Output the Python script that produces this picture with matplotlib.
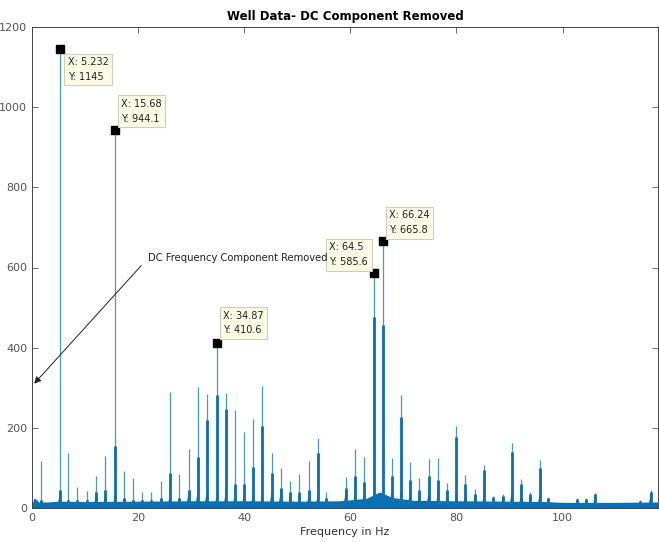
import matplotlib
matplotlib.use("Agg")
import matplotlib.pyplot as plt

# ---- data ----
peak_freq = [1.63, 5.232, 6.84, 8.53, 10.3, 12.04, 13.8, 15.68, 17.3, 19.0, 20.75, 22.5,
             24.3, 26.0, 27.7, 29.5, 31.2, 32.9, 34.87, 36.5, 38.25, 39.95, 41.65, 43.4,
             45.15, 46.85, 48.7, 50.4, 52.2, 53.9, 55.5, 59.1, 60.9, 62.6, 64.5, 66.24,
             67.8, 69.5, 71.2, 73.0, 74.75, 76.5, 78.3, 80.0, 81.7, 83.5, 85.2, 86.9,
             88.7, 90.4, 92.2, 93.9, 95.7, 97.3, 102.8, 104.4, 106.1, 114.7, 116.6]
peak_height = [117, 1145, 138, 53, 42, 80, 130, 944.1, 93, 74, 40, 40,
               67, 289, 86, 147, 303, 284, 410.6, 287, 244, 189, 223, 305,
               138, 100, 67, 86, 118, 174, 40, 78, 146, 128, 585.6, 665.8,
               124, 282, 114, 74, 121, 124, 63, 205, 82, 47, 107, 30,
               35, 161, 72, 40, 120, 28, 25, 25, 38, 20, 45]
peak_core = [20, 45, 20, 20, 20, 40, 45, 155, 25, 20, 20, 20,
             25, 87, 25, 45, 128, 219, 282, 247, 60, 60, 103, 205,
             87, 50, 40, 40, 45, 137, 25, 50, 80, 65, 477, 457,
             80, 228, 70, 45, 80, 70, 45, 178, 60, 35, 95, 28,
             30, 140, 60, 35, 100, 25, 22, 22, 35, 18, 40]
floor_freq = [0, 0.3, 0.8, 1.2, 3, 5, 10, 20, 30, 40, 50, 58, 63, 65.5, 68, 72,
              80, 90, 97, 100, 110, 118]
floor_level = [6, 24, 22, 15, 15, 17, 16, 17, 18, 18, 17, 18, 24, 40, 26, 19,
               18, 17, 16, 14, 14, 15]

tips = [(5.232, 1145, "X: 5.232\nY: 1145", (8, -8), "top"),
        (15.68, 944.1, "X: 15.68\nY: 944.1", (6, 6), "bottom"),
        (34.87, 410.6, "X: 34.87\nY: 410.6", (6, 8), "bottom"),
        (64.5, 585.6, "X: 64.5\nY: 585.6", (-6, 6), "bottom"),
        (66.24, 665.8, "X: 66.24\nY: 665.8", (6, 6), "bottom")]

fig = plt.figure(figsize=(6.59, 5.42), dpi=100)
ax = fig.add_axes([32 / 659, 1 - 508 / 542, 626 / 659, 481 / 542])

dark = "#0b6fb6"
light = "#4b98ba"

ax.fill_between(floor_freq, 0, floor_level, color=dark, lw=0, zorder=2)
for f, h, c in zip(peak_freq, peak_height, peak_core):
    sk = min(c, 45)
    ax.fill([f - 0.5, f - 0.15, f, f + 0.15, f + 0.5], [0, sk * 0.55, sk, sk * 0.55, 0],
            color=dark, lw=0, zorder=2)
    ax.vlines(f, 0, h, color=light, lw=0.9, zorder=3)
    ax.vlines(f, 0, c, color=dark, lw=2.0, zorder=4)

for x, y, txt, off, va in tips:
    ax.plot([x], [y], marker="s", color="black", markersize=5.5, zorder=6)
    ha = "right" if off[0] < 0 else "left"
    ax.annotate(txt, xy=(x, y), xytext=off, textcoords="offset pixels",
                ha=ha, va=va, multialignment="left", fontsize=7.0,
                color="#222222", linespacing=1.6,
                bbox=dict(boxstyle="square,pad=0.35", fc="#fbfbe6", ec="#cfcfc0", lw=0.8),
                zorder=7)

ax.annotate("", xy=(0.06, 305), xytext=(20.95, 610),
            arrowprops=dict(arrowstyle="-|>", color="#222222", lw=0.7,
                            mutation_scale=10), zorder=8)
ax.text(21.8, 624, "DC Frequency Component Removed", fontsize=7.2,
        color="#222222", ha="left", va="center", zorder=8)

ax.set_xlim(0, 118)
ax.set_ylim(0, 1200)
ax.set_xticks([0, 20, 40, 60, 80, 100])
ax.set_yticks([0, 200, 400, 600, 800, 1000, 1200])
ax.tick_params(direction="in", top=True, right=True, labelsize=8,
               colors="#555555", length=4, width=0.6)
for s in ax.spines.values():
    s.set_color("#444444")
    s.set_linewidth(0.7)
ax.set_title("Well Data- DC Component Removed", fontsize=8.5, fontweight="bold",
             pad=5)
ax.set_xlabel("Frequency in Hz", fontsize=8, color="#333333", labelpad=3)

fig.savefig("out.png", dpi=100)
